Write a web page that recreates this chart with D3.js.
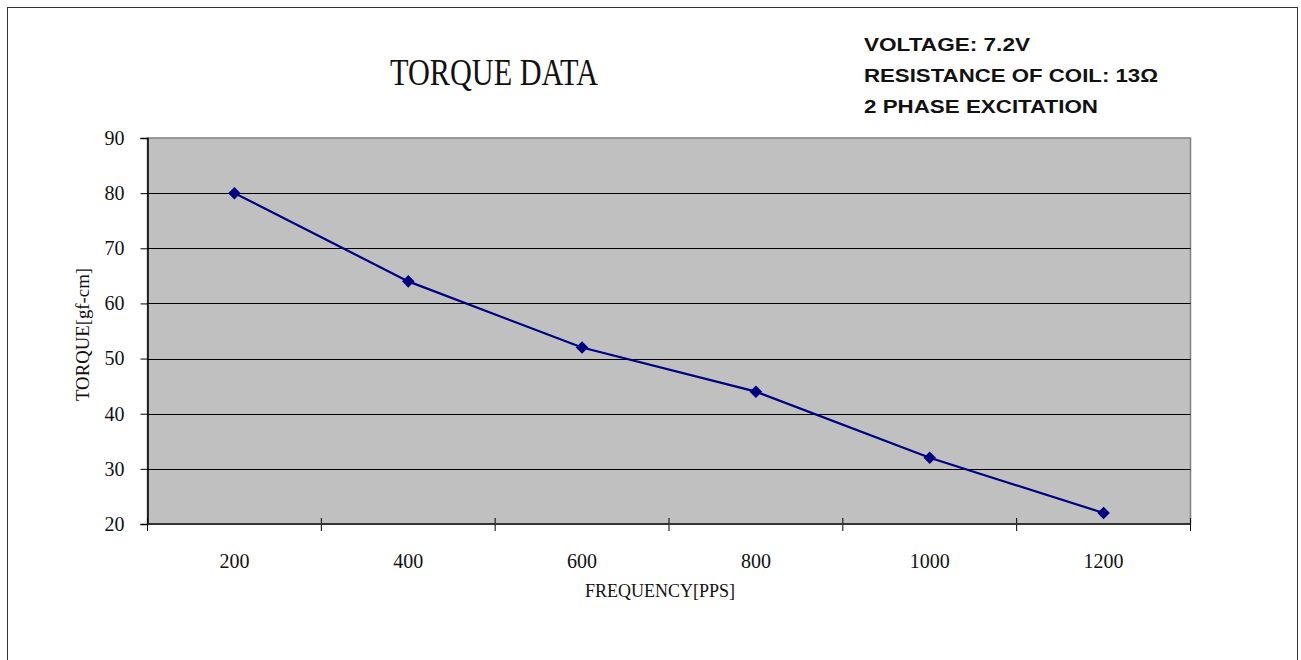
<!DOCTYPE html>
<html>
<head>
<meta charset="utf-8">
<script src="https://cdn.jsdelivr.net/npm/d3@7"></script>
<style>
  body { margin: 0; background: #fff; }
  svg { display: block; }
</style>
</head>
<body>
<div id="container"></div>
<script>
// chart data
let frequencies = ["200", "400", "600", "800", "1000", "1200"];
let torque = [80, 64, 52, 44, 32, 22];
let yTicks = [20, 30, 40, 50, 60, 70, 80, 90];
let notes = ["VOLTAGE: 7.2V", "RESISTANCE OF COIL: 13\u03A9", "2 PHASE EXCITATION"];
let noteWidths = [166, 294, 234];

let W = 1301;
let H = 660;
let plot = {left: 147.5, right: 1190.5, top: 138, bottom: 524};
let serif = "'Liberation Serif', 'DejaVu Serif', serif";

let svg = d3.select("#container")
  .append("svg")
  .attr("width", W)
  .attr("height", H);

// outer chart frame
svg.append("rect")
  .attr("x", 7.5).attr("y", 7.5)
  .attr("width", 1290).attr("height", 660)
  .attr("fill", "white")
  .attr("stroke", "#333")
  .attr("stroke-width", 1);

let xScale = d3.scaleBand().domain(frequencies).range([plot.left, plot.right]);
let yScale = d3.scaleLinear().domain([20, 90]).range([plot.bottom, plot.top]);

// plot background
svg.append("rect")
  .attr("x", plot.left).attr("y", plot.top)
  .attr("width", plot.right - plot.left)
  .attr("height", plot.bottom - plot.top)
  .attr("fill", "#C0C0C0")
  .attr("stroke", "#808080")
  .attr("stroke-width", 1.5);

// gridlines
svg.append("g")
  .selectAll("line")
  .data(yTicks.filter(d => d > 20 && d < 90))
  .join("line")
  .attr("x1", plot.left).attr("x2", plot.right)
  .attr("y1", d => Math.round(yScale(d)) + 0.5)
  .attr("y2", d => Math.round(yScale(d)) + 0.5)
  .attr("stroke", "black")
  .attr("stroke-width", 1);

// y axis
let yAxis = d3.axisLeft(yScale).tickValues(yTicks).tickSize(7).tickPadding(16);
let yAxisGroup = svg.append("g")
  .attr("transform", "translate(" + plot.left + ",0)")
  .call(yAxis);
yAxisGroup.select(".domain").attr("stroke", "black").attr("stroke-width", 1.5);
yAxisGroup.selectAll(".tick line").attr("stroke", "black");
yAxisGroup.selectAll("text")
  .attr("font-family", serif)
  .attr("font-size", 20)
  .attr("fill", "#111");

// x axis: ticks between categories, crossing the axis line
let bounds = frequencies.map(f => xScale(f)).concat([plot.right]);
svg.append("g")
  .selectAll("line")
  .data(bounds)
  .join("line")
  .attr("x1", d => d).attr("x2", d => d)
  .attr("y1", plot.bottom - 6).attr("y2", plot.bottom + 7)
  .attr("stroke", "black")
  .attr("stroke-width", 1);
svg.append("line")
  .attr("x1", plot.left).attr("x2", plot.right)
  .attr("y1", plot.bottom).attr("y2", plot.bottom)
  .attr("stroke", "#333")
  .attr("stroke-width", 2);
svg.append("g")
  .selectAll("text")
  .data(frequencies)
  .join("text")
  .attr("x", d => xScale(d) + xScale.bandwidth() / 2)
  .attr("y", 568)
  .attr("text-anchor", "middle")
  .attr("font-family", serif)
  .attr("font-size", 20)
  .attr("fill", "#111")
  .text(d => d);

// series line
let line = d3.line()
  .x((d, i) => xScale(frequencies[i]) + xScale.bandwidth() / 2)
  .y(d => yScale(d));
svg.append("path")
  .datum(torque)
  .attr("d", line)
  .attr("fill", "none")
  .attr("stroke", "#000080")
  .attr("stroke-width", 2.2);

// diamond markers
svg.append("g")
  .selectAll("path")
  .data(torque)
  .join("path")
  .attr("d", d3.symbol().type(d3.symbolDiamond2).size(100))
  .attr("transform", (d, i) => "translate(" + (xScale(frequencies[i]) + xScale.bandwidth() / 2) + "," + yScale(d) + ")")
  .attr("fill", "#000080");

// title
svg.append("text")
  .attr("x", 390).attr("y", 85)
  .attr("font-family", serif)
  .attr("font-size", 38)
  .attr("textLength", 208)
  .attr("lengthAdjust", "spacingAndGlyphs")
  .attr("fill", "#111")
  .text("TORQUE DATA");

// axis titles
svg.append("text")
  .attr("x", 585).attr("y", 597)
  .attr("font-family", serif)
  .attr("font-size", 19)
  .attr("textLength", 150)
  .attr("lengthAdjust", "spacingAndGlyphs")
  .attr("fill", "#111")
  .text("FREQUENCY[PPS]");

svg.append("text")
  .attr("transform", "translate(89,401) rotate(-90)")
  .attr("font-family", serif)
  .attr("font-size", 19)
  .attr("textLength", 133)
  .attr("lengthAdjust", "spacingAndGlyphs")
  .attr("fill", "#111")
  .text("TORQUE[gf-cm]");

// notes block
svg.append("g")
  .selectAll("text")
  .data(notes)
  .join("text")
  .attr("x", 864)
  .attr("y", (d, i) => 51 + i * 31)
  .attr("font-family", "'Liberation Sans', Arial, sans-serif")
  .attr("font-weight", "bold")
  .attr("font-size", 18)
  .attr("textLength", (d, i) => noteWidths[i])
  .attr("lengthAdjust", "spacingAndGlyphs")
  .attr("fill", "#111")
  .text(d => d);
</script>
</body>
</html>
